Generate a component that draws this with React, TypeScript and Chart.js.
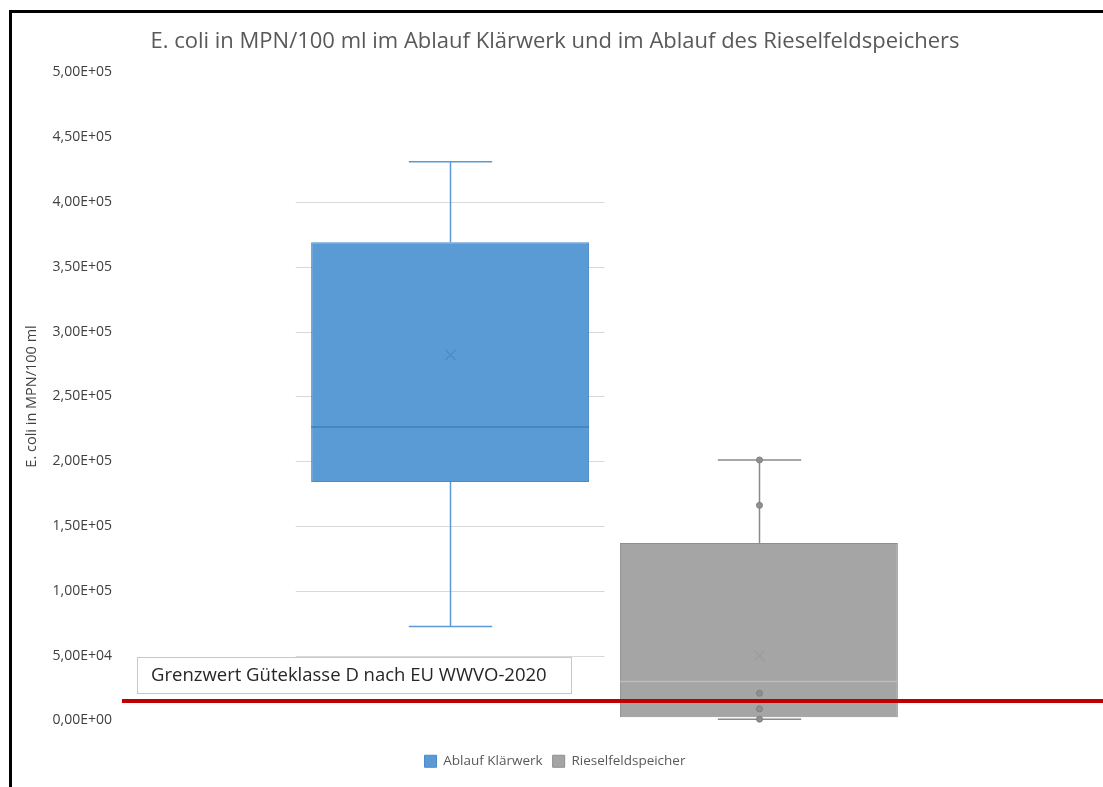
import React, { useEffect, useRef } from "react";
import { Chart, registerables } from "chart.js";

Chart.register(...registerables);

// ---- data ----
const categories = [""];
const seriesNames = ["Ablauf Klärwerk", "Rieselfeldspeicher"];
const mins = [72500, 1000];
const q1s = [184000, 2500];
const medians = [226500, 30000];
const q3s = [369000, 137000];
const maxs = [431000, 201000];
const means = [282000, 50000];
const pointsKlaerwerk: number[] = [];
const pointsRieselfeld = [201000, 166000, 21000, 9000, 1000];
const innerPoints = [pointsKlaerwerk, pointsRieselfeld];
const yTicksMin = 0;
const yTicksMax = 500000;
const yTickStep = 50000;
const gridFrom = 50000;
const gridTo = 400000;
const limitValue = 15000;
const limitLabel = "Grenzwert Güteklasse D nach EU WWVO-2020";

const FONT = "'Open Sans', 'Noto Sans', sans-serif";
const fillColors = ["#5b9bd5", "#a5a5a5"];
const borderColors = ["#4a8ac9", "#8e8e8e"];
const whiskerColors = ["#5b9bd5", "#8a8a8a"];
const medianColors = ["#3f7fbf", "#bdbdbd"];
const meanColors = ["rgba(60,120,185,0.45)", "rgba(140,140,140,0.3)"];
const BAR_PCT = 0.9;

const fmt = (v: number) => {
  if (v === 0) return "0,00E+00";
  const e = Math.floor(Math.log10(v) + 1e-9);
  const m = v / Math.pow(10, e);
  return `${m.toFixed(2).replace(".", ",")}E+${String(e).padStart(2, "0")}`;
};

const boxPlugin = {
  id: "boxExtras",
  beforeDatasetsDraw(chart: any) {
    const ctx = chart.ctx;
    const y = chart.scales.y;
    const meta = chart.getDatasetMeta(0);
    const bar = meta.data[0];
    if (!bar) return;
    const slot = bar.width / BAR_PCT;
    const x0 = bar.x - slot / 2;
    const x1 = bar.x + slot / 2;
    ctx.save();
    ctx.strokeStyle = "#d9d9d9";
    ctx.lineWidth = 1;
    y.ticks.forEach((t: any) => {
      if (t.value < gridFrom || t.value > gridTo) return;
      const py = Math.round(y.getPixelForValue(t.value)) + 0.5;
      ctx.beginPath();
      ctx.moveTo(x0, py);
      ctx.lineTo(x1, py);
      ctx.stroke();
    });
    ctx.restore();
  },
  afterDatasetsDraw(chart: any) {
    const ctx = chart.ctx;
    const y = chart.scales.y;
    ctx.save();
    chart.data.datasets.forEach((_: any, i: number) => {
      const bar = chart.getDatasetMeta(i).data[0];
      if (!bar) return;
      const cx = Math.round(bar.x) + 0.5;
      const w = bar.width;
      const capHalf = w * 0.15;
      const pMax = y.getPixelForValue(maxs[i]);
      const pMin = y.getPixelForValue(mins[i]);
      const pQ1 = y.getPixelForValue(q1s[i]);
      const pQ3 = y.getPixelForValue(q3s[i]);
      const pMed = y.getPixelForValue(medians[i]);
      const pMean = y.getPixelForValue(means[i]);
      ctx.strokeStyle = whiskerColors[i];
      ctx.lineWidth = 1.5;
      ctx.beginPath();
      ctx.moveTo(cx, pQ3);
      ctx.lineTo(cx, pMax);
      ctx.moveTo(cx - capHalf, pMax);
      ctx.lineTo(cx + capHalf, pMax);
      ctx.moveTo(cx, pQ1);
      ctx.lineTo(cx, pMin);
      ctx.moveTo(cx - capHalf, pMin);
      ctx.lineTo(cx + capHalf, pMin);
      ctx.stroke();
      // median
      ctx.strokeStyle = medianColors[i];
      ctx.lineWidth = 1.5;
      ctx.beginPath();
      ctx.moveTo(bar.x - w / 2, pMed);
      ctx.lineTo(bar.x + w / 2, pMed);
      ctx.stroke();
      // mean marker
      ctx.strokeStyle = meanColors[i];
      ctx.lineWidth = 1.5;
      const s = 5;
      ctx.beginPath();
      ctx.moveTo(cx - s, pMean - s);
      ctx.lineTo(cx + s, pMean + s);
      ctx.moveTo(cx + s, pMean - s);
      ctx.lineTo(cx - s, pMean + s);
      ctx.stroke();
      // points
      innerPoints[i].forEach((v) => {
        const py = y.getPixelForValue(v);
        ctx.fillStyle = "#8f8f8f";
        ctx.strokeStyle = "#7f7f7f";
        ctx.lineWidth = 1;
        ctx.beginPath();
        ctx.arc(cx, py, 3, 0, Math.PI * 2);
        ctx.fill();
        ctx.stroke();
      });
    });
    ctx.restore();
  },
  afterDraw(chart: any) {
    const ctx = chart.ctx;
    const y = chart.scales.y;
    const area = chart.chartArea;
    const ly = y.getPixelForValue(limitValue);
    ctx.save();
    // annotation box
    const bx = area.left + 15;
    const bw = 434;
    const bh = 36;
    const by = ly - 8 - bh;
    ctx.fillStyle = "#ffffff";
    ctx.fillRect(bx, by, bw, bh);
    ctx.strokeStyle = "#c8c8c8";
    ctx.lineWidth = 1;
    ctx.strokeRect(Math.round(bx) + 0.5, Math.round(by) + 0.5, bw, bh);
    ctx.fillStyle = "#262626";
    ctx.font = `18.5px ${FONT}`;
    ctx.textBaseline = "middle";
    ctx.textAlign = "left";
    ctx.fillText(limitLabel, bx + 14, by + bh / 2 + 1);
    // red limit line
    ctx.strokeStyle = "#c00000";
    ctx.lineWidth = 4;
    ctx.beginPath();
    ctx.moveTo(area.left, ly);
    ctx.lineTo(chart.width, ly);
    ctx.stroke();
    ctx.restore();
  },
};

export default function App() {
  const ref = useRef<HTMLCanvasElement | null>(null);
  useEffect(() => {
    if (!ref.current) return;
    const chart = new Chart(ref.current, {
      type: "bar",
      data: {
        labels: categories,
        datasets: seriesNames.map((name, i) => ({
          label: name,
          data: [[q1s[i], q3s[i]]] as any,
          backgroundColor: fillColors[i],
          borderColor: borderColors[i],
          borderWidth: 1,
          borderSkipped: false,
          barPercentage: BAR_PCT,
          categoryPercentage: 0.64,
        })),
      },
      options: {
        responsive: false,
        animation: false,
        events: [],
        layout: { padding: { left: 23, right: 16, top: 0, bottom: 9 } },
        plugins: {
          title: {
            display: true,
            text: "E. coli in MPN/100 ml im Ablauf Klärwerk und im Ablauf des Rieselfeldspeichers",
            color: "#595959",
            font: { family: FONT, size: 22, weight: "normal" },
            padding: { top: 29, bottom: 17 },
          },
          legend: {
            position: "bottom",
            labels: {
              boxWidth: 12,
              boxHeight: 12,
              color: "#595959",
              font: { family: FONT, size: 13.5 },
              padding: 10,
            },
          },
          tooltip: { enabled: false },
        },
        scales: {
          x: {
            display: true,
            ticks: { display: false },
            grid: { display: false, drawTicks: false },
            border: { display: false },
            afterFit: (s: any) => {
              s.height = 24;
            },
          },
          y: {
            min: yTicksMin,
            max: yTicksMax,
            ticks: {
              stepSize: yTickStep,
              callback: (v: any) => fmt(Number(v)),
              color: "#404040",
              font: { family: FONT, size: 14 },
              padding: 10,
            },
            grid: { display: false, drawTicks: false },
            border: { display: false },
            title: {
              display: true,
              text: "E. coli in MPN/100 ml",
              color: "#404040",
              font: { family: FONT, size: 14.5 },
              padding: { top: 0, bottom: 0 },
            },
            afterFit: (s: any) => {
              s.width = 99;
            },
          },
        },
      },
      plugins: [boxPlugin],
    });
    return () => chart.destroy();
  }, []);
  return (
    <div style={{ position: "fixed", left: 0, top: 0, width: 1103, height: 787, background: "#fff", overflow: "hidden" }}>
      <div
        style={{
          position: "absolute",
          left: 9,
          top: 10,
          width: 1200,
          height: 900,
          borderLeft: "3px solid #000",
          borderTop: "3px solid #000",
        }}
      />
      <canvas ref={ref} width={1103} height={787} style={{ position: "absolute", left: 0, top: 0 }} />
    </div>
  );
}
